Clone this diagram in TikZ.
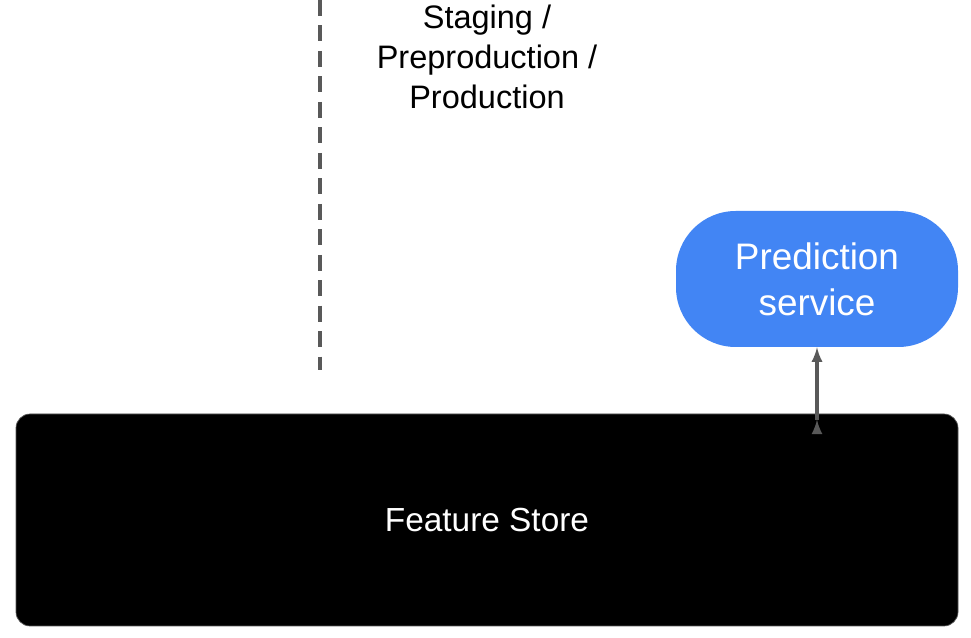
\documentclass[tikz,border=0pt]{standalone}
\usepackage{fontspec}
\setmainfont{Liberation Sans}
\usetikzlibrary{positioning}
\definecolor{predblue}{HTML}{4285F4}
\definecolor{linegray}{HTML}{595959}
\tikzset{
  storebox/.style={draw=linegray, fill=black, rounded corners=8pt, text=white, font=\fontsize{19}{23}\selectfont},
  predbox/.style={fill=predblue, rounded corners=34pt, text=white, align=center, font=\fontsize{21}{26}\selectfont},
  envlabel/.style={align=center, font=\fontsize{18.5}{22.7}\selectfont}
}
\begin{document}
\begin{tikzpicture}[x=0.02cm,y=-0.02cm]
        \useasboundingbox (0,0) rectangle (971,638);
        % Feature store along the bottom
        \node[storebox, minimum width=942*0.02cm, minimum height=212*0.02cm] (store) at (487,520) {Feature Store};

        % Prediction service above the store, on the right
        \node[predbox, minimum width=282*0.02cm, minimum height=136*0.02cm] (pred) at (817,279) {Prediction\\service};

        % Environment label and dashed boundary
        \node[envlabel] (env) at (487,57) {Staging /\\Preproduction /\\Production};
        \coordinate (lineTop) at (320,0);
        \coordinate (lineBot) at (320,370);
        \draw[linegray, line width=2.2pt, dash pattern=on 9pt off 5.5pt] (lineTop) -- (lineBot);

        % Arrow from store up to the prediction service
        \draw[-latex, linegray, line width=1.8pt] (store.north -| pred.south) ++(0,-6*0.02cm) coordinate (arrTail);
        \draw[-latex, linegray, line width=1.8pt] ([yshift=-0.12cm]store.north -| pred.south) -- (pred.south);
\end{tikzpicture}
\end{document}
